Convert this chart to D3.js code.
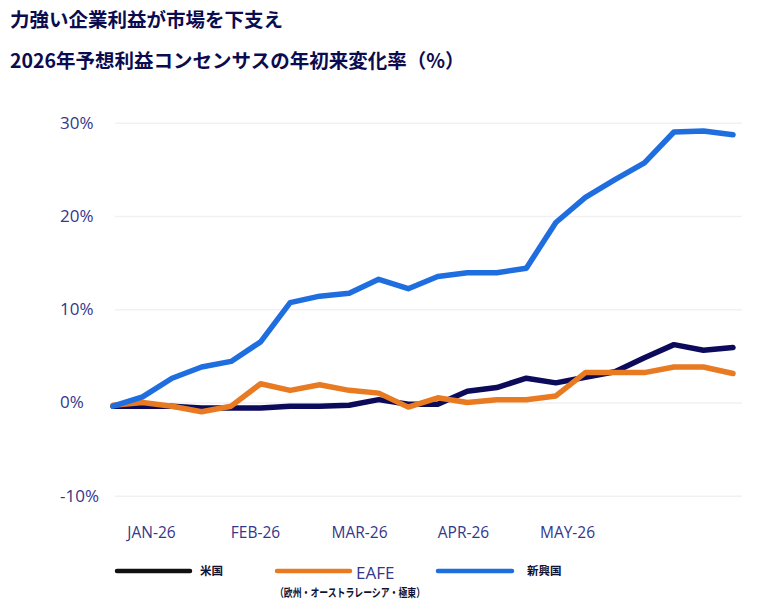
<!DOCTYPE html>
<html>
<head>
    <meta charset="utf-8" />
    <title>2026年予想利益コンセンサス</title>
    <style>
        body { margin: 0; background: #fff; }
        .tick line { display: none; }
    </style>
</head>
<body>
<script src="https://cdn.jsdelivr.net/npm/d3@7"></script>
<script>

    // weekly points, Jan to end of May
    var weeks = d3.range(22);

    var usValues = [-0.4, -0.4, -0.4, -0.6, -0.6, -0.6, -0.4, -0.4, -0.3, 0.3, -0.2, -0.2,
                    1.2, 1.6, 2.6, 2.1, 2.7, 3.3, 4.8, 6.2, 5.6, 5.9];
    var eafeValues = [-0.3, 0.0, -0.4, -1.0, -0.4, 2.0, 1.3, 1.9, 1.3, 1.0, -0.5, 0.5,
                      0.0, 0.3, 0.3, 0.7, 3.2, 3.2, 3.2, 3.8, 3.8, 3.1];
    var emValues = [-0.4, 0.6, 2.6, 3.8, 4.4, 6.5, 10.7, 11.4, 11.7, 13.2, 12.2, 13.5,
                    13.9, 13.9, 14.4, 19.3, 22.0, 23.9, 25.7, 29.0, 29.1, 28.7];

    var monthLabels = ["JAN-26", "FEB-26", "MAR-26", "APR-26", "MAY-26"];
    var yTicks = [-10, 0, 10, 20, 30];

    var title1 = "力強い企業利益が市場を下支え";
    var title2 = "2026年予想利益コンセンサスの年初来変化率（%）";

    var width = 763;
    var height = 614;
    var navy = "#0b0b4f";
    var axisColor = "#34378c";
    var jpFont = "'Noto Sans CJK JP', 'Noto Sans', sans-serif";
    var latinFont = "'Open Sans', 'Noto Sans', sans-serif";

    var series = [
        {name: "us", values: usValues, color: "#0c0a5a"},
        {name: "eafe", values: eafeValues, color: "#e87a22"},
        {name: "em", values: emValues, color: "#1f6ee0"}
    ];

    var svg = d3.select("body").append("svg")
                .attr("width", width)
                .attr("height", height);

    // titles
    svg.append("text")
       .attr("x", 10)
       .attr("y", 27)
       .attr("fill", navy)
       .style("font-family", jpFont)
       .style("font-weight", "bold")
       .style("font-size", "19.5px")
       .text(title1);

    svg.append("text")
       .attr("x", 10)
       .attr("y", 68)
       .attr("fill", navy)
       .style("font-family", jpFont)
       .style("font-weight", "bold")
       .style("font-size", "19.5px")
       .text(title2);

    var xScaler = d3.scaleLinear()
                    .domain([0, weeks.length - 1])
                    .range([113, 733]);

    var yScaler = d3.scaleLinear()
                    .domain([-10, 30])
                    .range([495.7, 122.7]);

    var monthScaler = d3.scalePoint()
                        .domain(monthLabels)
                        .range([151, 567]);

    // gridlines
    var grid = svg.append("g")
                  .attr("transform", "translate(115,0)")
                  .call(d3.axisRight(yScaler).tickValues(yTicks).tickSize(627).tickFormat(""));
    grid.select(".domain").remove();
    grid.selectAll(".tick line")
        .style("display", "inline")
        .attr("stroke", "#f1f1f3")
        .attr("stroke-width", 1.5);

    // y axis labels, left aligned
    var yAxisView = svg.append("g")
                       .attr("transform", "translate(60,0)")
                       .call(d3.axisRight(yScaler).tickValues(yTicks).tickSize(0).tickPadding(0)
                               .tickFormat(d => d + "%"));
    yAxisView.select(".domain").remove();
    yAxisView.selectAll("text")
             .attr("fill", axisColor)
             .style("font-family", latinFont)
             .style("font-size", "17px");

    // x axis labels
    var xAxisView = svg.append("g")
                       .attr("transform", "translate(0,527)")
                       .call(d3.axisBottom(monthScaler).tickSize(0).tickPadding(0));
    xAxisView.select(".domain").remove();
    xAxisView.selectAll("text")
             .attr("fill", axisColor)
             .style("font-family", latinFont)
             .style("font-size", "15.5px");

    var line = d3.line()
                 .x((d, i) => xScaler(weeks[i]))
                 .y(d => yScaler(d));

    svg.append("g")
       .selectAll("path")
       .data(series)
       .enter()
       .append("path")
       .attr("d", d => line(d.values))
       .attr("fill", "none")
       .attr("stroke", d => d.color)
       .attr("stroke-width", 5.5)
       .attr("stroke-linejoin", "round")
       .attr("stroke-linecap", "round");

    // legend
    var legendY = 571;
    var legend = [
        {x1: 117, x2: 190, color: "#111111", label: "米国", lx: 200},
        {x1: 277, x2: 350, color: "#e87a22", label: "EAFE", lx: 356},
        {x1: 438, x2: 512, color: "#1f6ee0", label: "新興国", lx: 527}
    ];

    svg.append("g")
       .selectAll("line")
       .data(legend)
       .enter()
       .append("line")
       .attr("x1", d => d.x1)
       .attr("x2", d => d.x2)
       .attr("y1", legendY)
       .attr("y2", legendY)
       .attr("stroke", d => d.color)
       .attr("stroke-width", 4.5)
       .attr("stroke-linecap", "round");

    svg.append("text")
       .attr("x", legend[0].lx)
       .attr("y", 575)
       .attr("fill", "#111133")
       .style("font-family", jpFont)
       .style("font-weight", "bold")
       .style("font-size", "11.5px")
       .text(legend[0].label);

    svg.append("text")
       .attr("x", legend[1].lx)
       .attr("y", 579)
       .attr("fill", axisColor)
       .style("font-family", latinFont)
       .style("font-size", "17px")
       .text(legend[1].label);

    svg.append("text")
       .attr("x", 275)
       .attr("y", 597)
       .attr("fill", "#111133")
       .attr("textLength", 150)
       .attr("lengthAdjust", "spacingAndGlyphs")
       .style("font-family", jpFont)
       .style("font-weight", "bold")
       .style("font-size", "11.5px")
       .text("（欧州・オーストラレーシア・極東）");

    svg.append("text")
       .attr("x", legend[2].lx)
       .attr("y", 575)
       .attr("fill", "#111133")
       .style("font-family", jpFont)
       .style("font-weight", "bold")
       .style("font-size", "11.5px")
       .text(legend[2].label);

</script>
</body>
</html>
